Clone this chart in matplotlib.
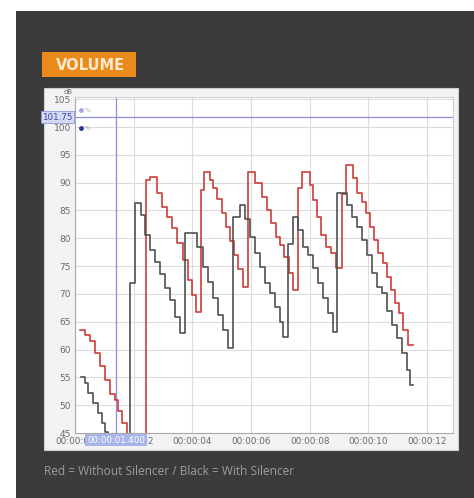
import matplotlib
matplotlib.use("Agg")
import matplotlib.pyplot as plt
from matplotlib.patches import Rectangle
from matplotlib.transforms import blended_transform_factory

W, H = 474, 498

# step traces (seconds, dB)
red_time = [0.17, 0.34, 0.51, 0.68, 0.85, 1.02, 1.19, 1.36, 1.47, 1.60, 1.77,
            2.42, 2.56, 2.79, 2.96, 3.13, 3.30, 3.48, 3.68, 3.85, 3.99, 4.12,
            4.29, 4.40, 4.60, 4.70, 4.84, 5.01, 5.14, 5.28, 5.42, 5.55, 5.72,
            5.89, 6.13, 6.37, 6.54, 6.68, 6.85, 6.98, 7.12, 7.29, 7.43,
            7.60, 7.73, 8.01, 8.11, 8.25, 8.38, 8.55, 8.72, 8.89,
            9.10, 9.23, 9.47, 9.61, 9.78, 9.91, 10.05, 10.19, 10.32, 10.49,
            10.63, 10.77, 10.90, 11.04, 11.18, 11.35, 11.52]
red_level = [63.5, 62.6, 61.5, 59.4, 57.0, 54.5, 52.0, 51.0, 49.0, 46.8, 40.0,
             90.5, 91.0, 88.2, 85.6, 83.8, 81.8, 79.1, 76.1, 72.5, 69.8, 66.7,
             88.7, 92.0, 90.5, 89.0, 87.0, 84.5, 82.0, 79.5, 77.0, 74.5, 71.3,
             92.0, 90.0, 87.4, 85.0, 82.7, 80.3, 78.8, 76.6, 73.7, 70.7,
             89.0, 92.0, 89.6, 86.9, 83.8, 80.6, 78.4, 77.3, 74.6,
             88.0, 93.2, 90.8, 88.1, 86.5, 84.5, 82.0, 79.7, 77.3, 75.6,
             73.0, 70.7, 68.4, 66.6, 63.5, 60.8, 60.8]

black_time = [0.21, 0.34, 0.44, 0.61, 0.78, 0.92, 1.02, 1.12,
              1.87, 2.04, 2.25, 2.39, 2.56, 2.73, 2.90, 3.07, 3.24, 3.41, 3.58,
              3.75, 4.16, 4.36, 4.53, 4.70, 4.87, 5.04, 5.21,
              5.38, 5.62, 5.79, 5.96, 6.13, 6.30, 6.47, 6.64, 6.81, 6.98, 7.09,
              7.26, 7.43, 7.60, 7.77, 7.94, 8.11, 8.28, 8.45, 8.62, 8.79,
              8.93, 9.27, 9.44, 9.61, 9.78, 9.95, 10.12, 10.29, 10.46, 10.63,
              10.80, 10.97, 11.14, 11.31, 11.41, 11.52]
black_level = [55.0, 54.0, 52.2, 50.4, 48.6, 46.8, 45.2, 40.0,
               72.0, 86.3, 84.2, 80.6, 77.9, 75.7, 73.5, 71.0, 68.9, 65.8, 63.0,
               81.0, 78.4, 74.8, 72.1, 69.3, 66.2, 63.5, 60.3,
               83.8, 86.0, 83.4, 80.3, 77.4, 74.8, 72.0, 70.1, 67.6, 65.0, 62.3,
               79.0, 83.8, 81.5, 78.4, 77.0, 74.6, 72.0, 69.3, 66.6, 63.1,
               88.1, 86.0, 83.8, 82.0, 79.7, 77.0, 73.7, 71.2, 70.1, 67.0,
               64.4, 62.1, 59.4, 56.3, 53.6, 53.6]

y_ticks = [45, 50, 55, 60, 65, 70, 75, 80, 85, 90, 95, 100, 105]
x_ticks = [0, 2, 4, 6, 8, 10, 12]
x_labels = ["00:00:00", "00:00:02", "00:00:04", "00:00:06",
            "00:00:08", "00:00:10", "00:00:12"]
cursor_time = 1.4
cursor_level = 101.75
cursor_xlabel = "00:00:01.400"
cursor_ylabel = "101.75"
title = "VOLUME"
caption = "Red = Without Silencer / Black = With Silencer"


def _rect(fig, x0, y0, x1, y1, color, edge="none", z=-5):
    fig.patches.append(Rectangle((x0 / W, 1 - y1 / H), (x1 - x0) / W, (y1 - y0) / H,
                                 transform=fig.transFigure, facecolor=color,
                                 edgecolor=edge, linewidth=0.8, zorder=z))


fig = plt.figure(figsize=(W / 100, H / 100), dpi=100)
fig.patch.set_facecolor("white")

# dark page panel, orange tag, screenshot frame
_rect(fig, 16, 11, 474, 498, "#3b3b3b")
_rect(fig, 42, 52, 136, 77, "#ea8a1a", z=-4)
fig.text(90 / W, 1 - 65 / H, title, ha="center", va="center", color="#fdebd0",
         fontsize=10.5, fontweight="bold")
_rect(fig, 44, 88, 458, 450, "#f3f3f5", edge="#cfcfd4", z=-4)

ax = fig.add_axes([75 / W, 1 - 433 / H, (453 - 75) / W, (433 - 97) / H])
ax.set_facecolor("white")
ax.set_xlim(0, 12.88)
ax.set_ylim(45, 105.4)

ax.step(red_time, red_level, where="post", color="#cc3d3a", lw=1.2, zorder=3)
ax.step(black_time, black_level, where="post", color="#4e534e", lw=1.2, zorder=3)

ax.set_xticks(x_ticks)
ax.set_xticklabels(x_labels)
ax.set_yticks(y_ticks)
ax.tick_params(axis="both", length=0, colors="#6a6a6a")
ax.tick_params(axis="y", labelsize=6.5, pad=3)
ax.tick_params(axis="x", labelsize=6.4, pad=3)
ax.grid(True, color="#dcdcdc", lw=0.8)
ax.set_axisbelow(True)
for side in ["left", "bottom"]:
    ax.spines[side].set_color("#a8a8ae")
for side in ["top", "right"]:
    ax.spines[side].set_color("#d0d0d4")

# cursor crosshair and its highlighted readouts
ax.axvline(cursor_time, color="#8e8ede", lw=0.9, zorder=2)
ax.axhline(cursor_level, color="#8e8ede", lw=0.9, zorder=2)
ax.text(-0.006, cursor_level, cursor_ylabel,
        transform=blended_transform_factory(ax.transAxes, ax.transData),
        ha="right", va="center", fontsize=6.3, color="#3a4aa8",
        bbox=dict(boxstyle="square,pad=0.15", facecolor="#d4daf4", edgecolor="#8e9ad8", lw=0.6))
ax.text(cursor_time, -0.008, cursor_xlabel,
        transform=blended_transform_factory(ax.transData, ax.transAxes),
        ha="center", va="top", fontsize=6.2, color="white", zorder=5,
        bbox=dict(boxstyle="square,pad=0.2", facecolor="#a9b5ea", edgecolor="none"))

# tiny series markers in the corner
ax.plot([0.2], [103.0], "o", ms=2.5, color="#a9a9e6", zorder=4)
ax.plot([0.2], [99.8], "o", ms=2.5, color="#2c3a8c", zorder=4)
ax.text(0.32, 103.0, "%", fontsize=4.5, color="#9a9ab8", va="center")
ax.text(0.32, 99.8, "%", fontsize=4.5, color="#9a9ab8", va="center")
fig.text(68 / W, 1 - 92 / H, "dB", ha="center", va="center", fontsize=5, color="#6a6a6a")

fig.text(44 / W, 1 - 471 / H, caption, ha="left", va="center", color="#9c9c9c",
         fontsize=8.6, family=["Open Sans", "DejaVu Sans"])

fig.savefig("out.png", dpi=100, facecolor=fig.get_facecolor())
